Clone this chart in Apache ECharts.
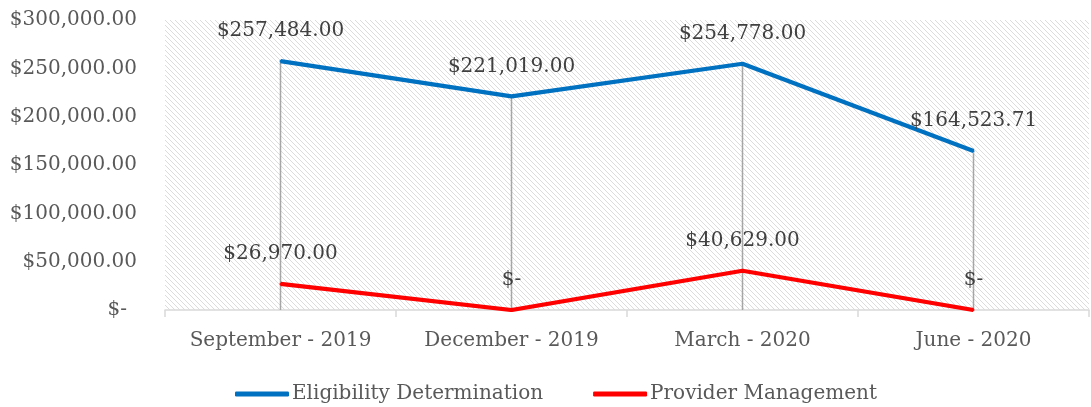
<!DOCTYPE html>
<html>
<head>
<meta charset="utf-8">
<script src="https://cdn.jsdelivr.net/npm/echarts@6/dist/echarts.min.js"></script>
<style>html,body{margin:0;padding:0;background:#fff;}#c{width:1091px;height:407px;}</style>
</head>
<body>
<div id="c"></div>
<script>
const categories = ['September - 2019', 'December - 2019', 'March - 2020', 'June - 2020'];
const eligibility = [257484.00, 221019.00, 254778.00, 164523.71];
const provider = [26970.00, 0, 40629.00, 0];
const yTicks = { min: 0, max: 300000, interval: 50000 };

const FONT = '"DejaVu Serif", serif';
const TXT = '#595959';

function money(v) {
  if (v === 0) return '$-';
  return '$' + v.toLocaleString('en-US', { minimumFractionDigits: 2, maximumFractionDigits: 2 });
}

// hatch pattern
const T = 5;
const pc = document.createElement('canvas');
pc.width = T; pc.height = T;
const pctx = pc.getContext('2d');
pctx.fillStyle = '#ffffff'; pctx.fillRect(0, 0, T, T);
pctx.fillStyle = '#dcdcdc';
for (let i = 0; i < T; i++) pctx.fillRect(i, i, 1, 1);

const chart = echarts.init(document.getElementById('c'), null, { renderer: 'canvas' });
const labelStyle = {
  show: true, position: 'top', distance: 19,
  fontFamily: FONT, fontSize: 20, color: '#404040',
  formatter: p => money(p.value)
};
chart.setOption({
  animation: false,
  backgroundColor: '#fff',
  grid: { left: 165, right: 2, top: 20, bottom: 97, show: true, borderWidth: 0,
          backgroundColor: { image: pc, repeat: 'repeat' } },
  legend: {
    data: ['Eligibility Determination', 'Provider Management'],
    bottom: -2, left: 230, itemGap: 50, itemWidth: 54, itemHeight: 5,
    icon: 'roundRect',
    textStyle: { fontFamily: FONT, fontSize: 20, color: TXT, padding: [0, 0, 0, -2] }
  },
  xAxis: {
    type: 'category', data: categories, boundaryGap: true,
    axisLine: { show: true, lineStyle: { color: '#d9d9d9', width: 1.5 } },
    axisTick: { show: true, length: 7, lineStyle: { color: '#d9d9d9', width: 1.5 } },
    axisLabel: { fontFamily: FONT, fontSize: 20, color: TXT, margin: 21, interval: 0 }
  },
  yAxis: {
    type: 'value', min: yTicks.min, max: yTicks.max, interval: yTicks.interval,
    axisLine: { show: false }, axisTick: { show: false }, splitLine: { show: false },
    axisLabel: {
      fontFamily: FONT, fontSize: 20, color: TXT, margin: 28,
      formatter: v => v === 0 ? '{z|$-}' : money(v),
      rich: { z: { fontFamily: FONT, fontSize: 20, color: TXT, padding: [0, 10, 0, 0] } }
    }
  },
  series: [
    {
      name: 'drop', type: 'bar', data: eligibility, barWidth: 1.5, z: 1,
      itemStyle: { color: '#a6a6a6' }, silent: true, legendHoverLink: false
    },
    {
      name: 'Eligibility Determination', type: 'line', data: eligibility, z: 3,
      symbol: 'circle', symbolSize: 2, showSymbol: true,
      lineStyle: { color: '#0070c0', width: 4.2 }, itemStyle: { color: '#0070c0' },
      label: labelStyle
    },
    {
      name: 'Provider Management', type: 'line', data: provider, z: 4,
      symbol: 'circle', symbolSize: 2, showSymbol: true,
      lineStyle: { color: '#ff0000', width: 4.2 }, itemStyle: { color: '#ff0000' },
      label: labelStyle
    }
  ]
});
</script>
</body>
</html>
